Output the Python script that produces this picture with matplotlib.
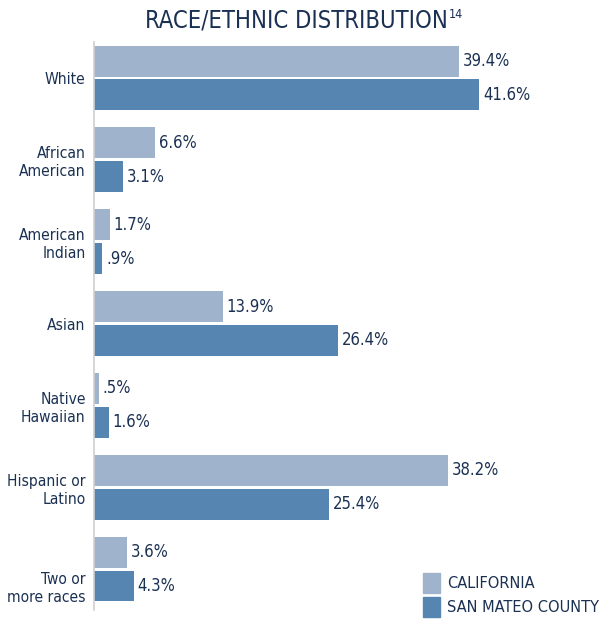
import matplotlib

matplotlib.use("Agg")

import matplotlib.pyplot as plt
from matplotlib.patches import Rectangle
from matplotlib.transforms import ScaledTranslation

categories = [
    "White",
    "African\nAmerican",
    "American\nIndian",
    "Asian",
    "Native\nHawaiian",
    "Hispanic or\nLatino",
    "Two or\nmore races",
]
california = [39.4, 6.6, 1.7, 13.9, 0.5, 38.2, 3.6]
san_mateo = [41.6, 3.1, 0.9, 26.4, 1.6, 25.4, 4.3]
california_labels = ["39.4%", "6.6%", "1.7%", "13.9%", ".5%", "38.2%", "3.6%"]
san_mateo_labels = ["41.6%", "3.1%", ".9%", "26.4%", "1.6%", "25.4%", "4.3%"]
series_names = ["CALIFORNIA", "SAN MATEO COUNTY"]

LIGHT = "#a0b3cc"
DARK = "#5585b0"
NAVY = "#1b3153"

plt.rcParams["font.family"] = ["DejaVu Sans"]
plt.rcParams["font.stretch"] = "condensed"

fig = plt.figure(figsize=(6.0, 6.2), dpi=100)
ax = fig.add_axes([94 / 600, 1 - 610 / 620, (580 - 94) / 600, (610 - 42) / 620])

positions = list(range(len(categories)))
height = 0.378
offset = 0.207
ax.barh([p - offset for p in positions], california, height=height, color=LIGHT)
ax.barh([p + offset for p in positions], san_mateo, height=height, color=DARK)

for p, v, s in zip(positions, california, california_labels):
    ax.text(v + 0.4, p - offset, s, va="center", ha="left", fontsize=12, color=NAVY)
for p, v, s in zip(positions, san_mateo, san_mateo_labels):
    ax.text(v + 0.4, p + offset, s, va="center", ha="left", fontsize=12, color=NAVY)

ax.set_xlim(0, (580 - 94) / 9.26)
ax.set_ylim(6.5, -0.44)
ax.set_yticks(positions, categories)
ax.tick_params(axis="y", length=0, pad=6, labelsize=11.2, labelcolor=NAVY)
ax.tick_params(axis="x", bottom=False, labelbottom=False)
for name in ["top", "right", "bottom"]:
    ax.spines[name].set_visible(False)
ax.spines["left"].set_color("#d0d0d0")
ax.spines["left"].set_linewidth(1.2)
ticklabels = ax.get_yticklabels()
for label in ticklabels:
    label.set_multialignment("right")
    label.set_linespacing(1.25)
# the bottom category label sits a little lower, level with its second bar
ticklabels[-1].set_transform(ticklabels[-1].get_transform()
                             + ScaledTranslation(0, -0.16, fig.dpi_scale_trans))

fig.text(145 / 600, 1 - 21 / 620, "RACE/ETHNIC DISTRIBUTION", ha="left", va="center",
         fontsize=17, color=NAVY)
fig.text(449 / 600, 1 - 15 / 620, "14", ha="left", va="center",
         fontsize=9, color=NAVY)

# legend drawn as plain squares with labels in the lower right corner
for i, (name, color) in enumerate(zip(series_names, [LIGHT, DARK])):
    y_top = 573 + i * 24
    fig.patches.append(Rectangle((423 / 600, 1 - (y_top + 20) / 620), 17 / 600, 20 / 620,
                                 transform=fig.transFigure, color=color))
    fig.text(447 / 600, 1 - (y_top + 10) / 620, name, ha="left", va="center",
             fontsize=11.7, color=NAVY)

fig.savefig("out.png", dpi=100, facecolor="white")
